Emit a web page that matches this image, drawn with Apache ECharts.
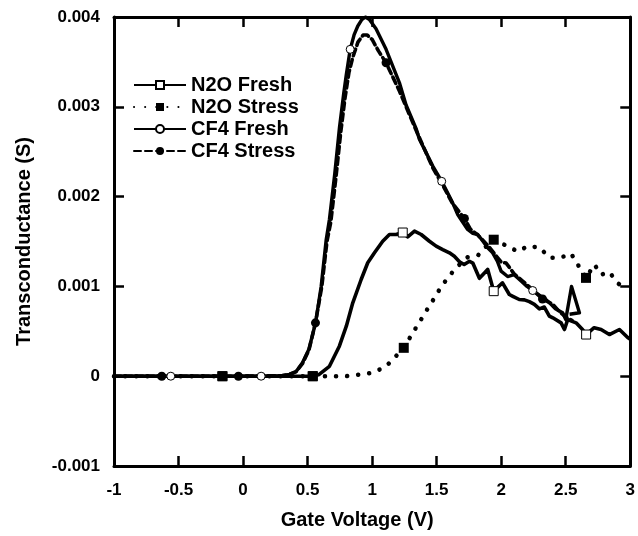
<!DOCTYPE html>
<html>
<head>
<meta charset="utf-8">
<script src="https://cdn.jsdelivr.net/npm/echarts@6/dist/echarts.min.js"></script>
<style>
  html, body { margin: 0; padding: 0; background: #fff; }
  #main { width: 638px; height: 536px; }
</style>
</head>
<body>
<div id="main"></div>
<script>
// gate voltage (V) / transconductance (S)
const n2oFresh = [
  [-1, 0], [-0.16, 0], [0.54, 0], [0.59, 0.00002], [0.669, 0.00011], [0.746, 0.000334],
  [0.80, 0.000557], [0.85, 0.000817], [0.915, 0.001077], [0.966, 0.001263], [1.018, 0.001374],
  [1.082, 0.001503], [1.134, 0.001578], [1.186, 0.001578], [1.237, 0.0016], [1.276, 0.001552],
  [1.328, 0.001615], [1.38, 0.001578], [1.444, 0.001503], [1.496, 0.001448], [1.547, 0.00141],
  [1.599, 0.001374], [1.637, 0.001336], [1.68, 0.00127], [1.713, 0.001244], [1.754, 0.00128],
  [1.78, 0.00126], [1.831, 0.00109], [1.87, 0.00115], [1.895, 0.00119], [1.942, 0.000947],
  [2.01, 0.00104], [2.063, 0.00091], [2.09, 0.00089], [2.14, 0.000854], [2.18, 0.00085],
  [2.218, 0.00083], [2.257, 0.0008], [2.296, 0.00075], [2.334, 0.00077], [2.373, 0.00067],
  [2.40, 0.00065], [2.464, 0.000594], [2.49, 0.00052], [2.515, 0.00063], [2.58, 0.000594],
  [2.63, 0.00052], [2.658, 0.000464], [2.72, 0.00054], [2.774, 0.00052], [2.838, 0.000464],
  [2.916, 0.00052], [2.98, 0.00043], [3.0, 0.00041]
]
const n2oFreshMarks = [-0.16, 0.54, 1.237, 1.942, 2.658]

const n2oStress = [
  [-1, 0], [-0.16, 0], [0.54, 0], [0.654, 0], [0.8, 0], [0.915, 0.00002], [1.01, 0.00004],
  [1.108, 0.00011], [1.18, 0.000216], [1.245, 0.000316], [1.315, 0.000483], [1.366, 0.0006],
  [1.418, 0.000724], [1.475, 0.000854], [1.53, 0.000984], [1.593, 0.00111], [1.66, 0.00122],
  [1.74, 0.001325], [1.823, 0.00135], [1.88, 0.00144], [1.942, 0.00152], [2.03, 0.00146],
  [2.128, 0.00139], [2.21, 0.00145], [2.30, 0.00143], [2.373, 0.00132], [2.46, 0.00132],
  [2.541, 0.001366], [2.593, 0.001244], [2.657, 0.001095], [2.722, 0.001244], [2.774, 0.00113],
  [2.838, 0.00116], [2.90, 0.00104], [2.965, 0.000965]
]
const n2oStressMarks = [-0.16, 0.54, 1.245, 1.942, 2.657]

const cf4Fresh = [
  [-1, 0], [-0.56, 0], [0.14, 0], [0.3, 0.000005], [0.36, 0.00002], [0.41, 0.00005],
  [0.46, 0.00015], [0.51, 0.0003], [0.561, 0.00059], [0.605, 0.001], [0.644, 0.00152],
  [0.669, 0.001745], [0.71, 0.00225], [0.747, 0.00277], [0.78, 0.00315], [0.80, 0.00336],
  [0.83, 0.00364], [0.86, 0.0038], [0.889, 0.0039], [0.92, 0.00397], [0.948, 0.004],
  [0.98, 0.00397], [1.03, 0.00387], [1.108, 0.00364], [1.211, 0.00327], [1.263, 0.00302],
  [1.34, 0.00276], [1.366, 0.00264], [1.47, 0.00234], [1.539, 0.00217], [1.624, 0.00193],
  [1.663, 0.0018], [1.70, 0.00172], [1.74, 0.001634], [1.78, 0.00159], [1.818, 0.001578],
  [1.86, 0.0015], [1.895, 0.00143], [1.934, 0.001374], [1.97, 0.00128], [1.999, 0.00117],
  [2.05, 0.00111], [2.10, 0.00113], [2.154, 0.00106], [2.20, 0.001], [2.244, 0.000954],
  [2.309, 0.00089], [2.35, 0.00085], [2.386, 0.0008], [2.42, 0.00075], [2.476, 0.000706],
  [2.50, 0.00063], [2.545, 0.001], [2.606, 0.000706], [2.53, 0.00069]
]
const cf4FreshMarks = [-0.56, 0.14, 0.83, 1.539, 2.244]

const cf4Stress = [
  [-1, 0], [-0.63, 0], [-0.036, 0], [0.3, 0.000005], [0.36, 0.00002], [0.41, 0.00005],
  [0.46, 0.00014], [0.51, 0.00029], [0.561, 0.000594], [0.61, 0.001], [0.65, 0.0015],
  [0.68, 0.00172], [0.72, 0.00222], [0.757, 0.00272], [0.79, 0.0031], [0.82, 0.00338],
  [0.85, 0.00355], [0.89, 0.00372], [0.93, 0.0038], [0.96, 0.0038], [1.0, 0.00375],
  [1.05, 0.00362], [1.108, 0.00349], [1.21, 0.00318], [1.34, 0.00274], [1.47, 0.00232],
  [1.55, 0.00212], [1.62, 0.00193], [1.715, 0.001756], [1.76, 0.00164], [1.82, 0.00157],
  [1.90, 0.00145], [1.95, 0.00136], [2.0, 0.00127], [2.038, 0.00126], [2.10, 0.00114],
  [2.166, 0.00106], [2.23, 0.00098], [2.32, 0.00086], [2.40, 0.0008], [2.45, 0.00072],
  [2.50, 0.00066], [2.55, 0.00062]
]
const cf4StressMarks = [-0.63, -0.036, 0.561, 1.108, 1.715, 2.32]

const font = 'Liberation Sans, Arial, Helvetica, sans-serif'

// only the points listed in marks get a symbol
function withMarks(points, marks) {
  return points.map((p) => marks.includes(p[0]) ? { value: p } : { value: p, symbol: 'none' })
}

function lineSeries(name, points, marks, symbol, size, open, lineType, width) {
  return {
    name: name,
    type: 'line',
    data: withMarks(points, marks),
    symbol: symbol,
    symbolSize: size,
    showSymbol: true,
    smooth: false,
    lineStyle: { color: '#000', width: width, type: lineType, cap: lineType === 'solid' ? 'butt' : 'round', join: 'round' },
    itemStyle: open
      ? { color: '#fff', borderColor: '#000', borderWidth: 1 }
      : { color: '#000', borderColor: '#000', borderWidth: 0 },
    emphasis: { disabled: true },
    z: 3,
  }
}

const axisCommon = {
  type: 'value',
  axisLine: { show: true, onZero: false, lineStyle: { color: '#000', width: 3 } },
  axisTick: { show: true, inside: true, length: 10, lineStyle: { color: '#000', width: 2.5 } },
  splitLine: { show: false },
}

const chart = echarts.init(document.getElementById('main'), null, { renderer: 'canvas' })
chart.setOption({
  animation: false,
  backgroundColor: '#fff',
  grid: { left: 114, top: 17, width: 517, height: 449 },
  legend: {
    orient: 'vertical',
    left: 133,
    top: 75,
    padding: 0,
    itemWidth: 52,
    itemHeight: 10,
    itemGap: 2,
    data: ['N2O Fresh', 'N2O Stress', 'CF4 Fresh', 'CF4 Stress'],
    textStyle: { fontSize: 20, fontWeight: 'bold', color: '#000', fontFamily: font },
  },
  xAxis: [
    {
      ...axisCommon,
      position: 'bottom',
      min: -1,
      max: 3,
      interval: 0.5,
      axisLabel: { margin: 16, fontSize: 17, fontWeight: 'bold', color: '#000', fontFamily: font },
      name: 'Gate Voltage (V)',
      nameLocation: 'middle',
      nameGap: 44,
      nameTextStyle: { fontSize: 20, fontWeight: 'bold', color: '#000', fontFamily: font, padding: [0, 30, 0, 0] },
    },
    {
      ...axisCommon,
      position: 'top',
      min: -1,
      max: 3,
      interval: 0.5,
      axisLabel: { show: false },
    },
  ],
  yAxis: [
    {
      ...axisCommon,
      position: 'left',
      min: -0.001,
      max: 0.004,
      interval: 0.001,
      axisLabel: { margin: 14, fontSize: 17, fontWeight: 'bold', color: '#000', fontFamily: font },
      name: 'Transconductance (S)',
      nameLocation: 'middle',
      nameGap: 80,
      nameTextStyle: { fontSize: 20, fontWeight: 'bold', color: '#000', fontFamily: font },
    },
    {
      ...axisCommon,
      position: 'right',
      min: -0.001,
      max: 0.004,
      interval: 0.001,
      axisLabel: { show: false },
    },
  ],
  series: [
    lineSeries('N2O Fresh', n2oFresh, n2oFreshMarks, 'rect', 9, true, 'solid', 3.6),
    lineSeries('N2O Stress', n2oStress, n2oStressMarks, 'rect', 10, false, [0.1, 11], 4.5),
    lineSeries('CF4 Fresh', cf4Fresh, cf4FreshMarks, 'circle', 8, true, 'solid', 3.4),
    lineSeries('CF4 Stress', cf4Stress, cf4StressMarks, 'circle', 9, false, [7, 4], 3.6),
  ],
})
</script>
</body>
</html>
